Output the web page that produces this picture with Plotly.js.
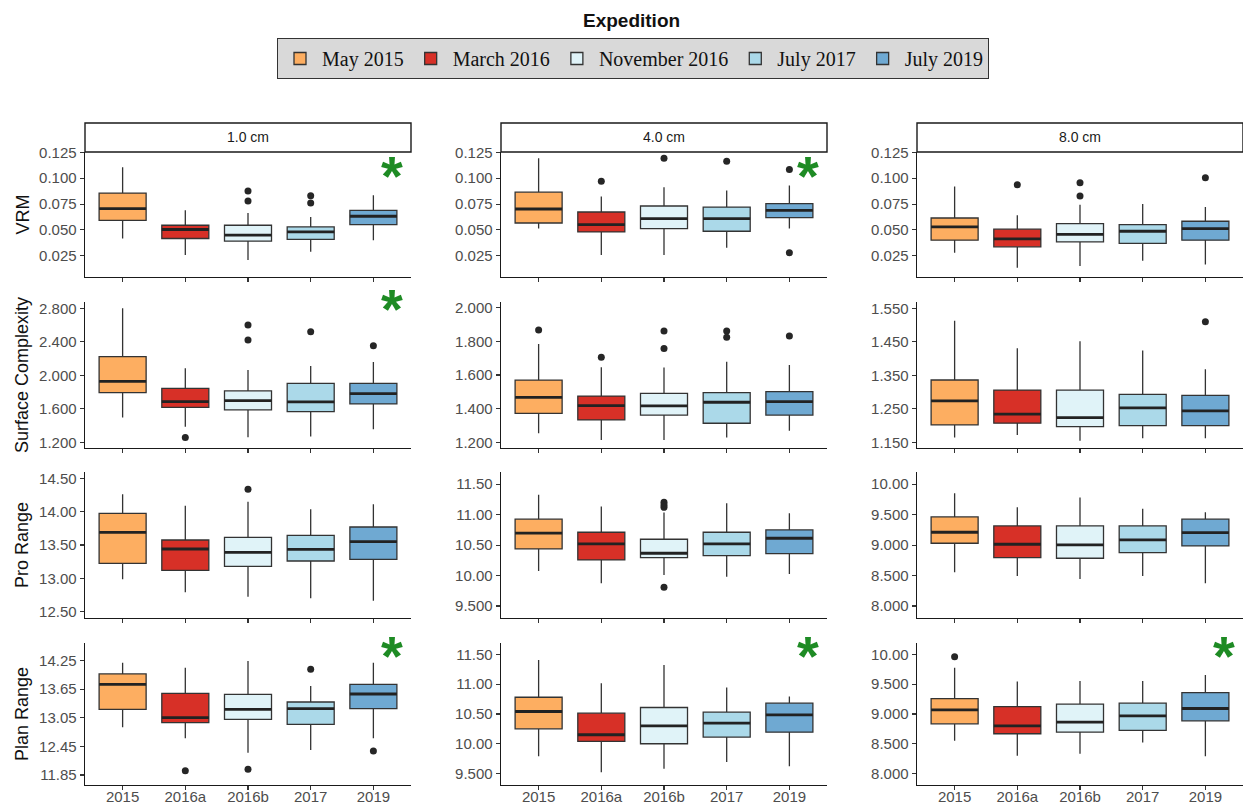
<!DOCTYPE html>
<html>
<head>
<meta charset="utf-8">
<script src="https://cdn.plot.ly/plotly-3.0.1.min.js"></script>
<style>html,body{margin:0;padding:0;background:#fff;}#chart{width:1243px;height:807px;}</style>
</head>
<body>
<div id="chart"></div>
<script>
// ---------------- DATA ----------------
const categories = ['2015', '2016a', '2016b', '2017', '2019'];
const expeditions = ['May 2015', 'March 2016', 'November 2016', 'July 2017', 'July 2019'];
const metrics = ['VRM', 'Surface Complexity', 'Pro Range', 'Plan Range'];
const resolutions = ['1.0 cm', '4.0 cm', '8.0 cm'];

const VRM_1cm = {lower:[0.0417,0.0257,0.0209,0.0288,0.0401], q1:[0.0593,0.0417,0.0391,0.0408,0.0552], median:[0.0706,0.0504,0.0449,0.0481,0.0632], q3:[0.0856,0.0545,0.0545,0.0529,0.0689], upper:[0.1106,0.0689,0.0663,0.0625,0.0834]};
const VRM_1cm_out = [[], [], [0.0875,0.0779], [0.0831,0.0760], []];
const VRM_4cm = {lower:[0.0513,0.0257,0.0257,0.0327,0.0513], q1:[0.0567,0.0481,0.0513,0.0487,0.0619], median:[0.0702,0.0552,0.0610,0.0610,0.0689], q3:[0.0865,0.0673,0.0731,0.0721,0.0754], upper:[0.1192,0.0824,0.0913,0.0882,0.0930]};
const VRM_4cm_out = [[], [0.0971], [0.1192], [0.1163], [0.1084,0.0279]];
const VRM_8cm = {lower:[0.0279,0.0135,0.0151,0.0202,0.0167], q1:[0.0401,0.0337,0.0385,0.0369,0.0401], median:[0.0529,0.0413,0.0456,0.0487,0.0513], q3:[0.0615,0.0507,0.0561,0.0552,0.0584], upper:[0.0920,0.0641,0.0744,0.0750,0.0721]};
const VRM_8cm_out = [[], [0.0937], [0.0956,0.0827], [], [0.1004]];

const SC_1cm = {lower:[1.495,1.387,1.260,1.268,1.355], q1:[1.793,1.618,1.586,1.566,1.658], median:[1.928,1.686,1.698,1.682,1.781], q3:[2.223,1.845,1.813,1.904,1.904], upper:[2.800,2.084,2.064,2.111,2.159]};
const SC_1cm_out = [[], [1.256], [2.601,2.422], [2.521], [2.354]];
const SC_4cm = {lower:[1.253,1.214,1.214,1.228,1.269], q1:[1.372,1.333,1.362,1.313,1.362], median:[1.467,1.418,1.416,1.438,1.442], q3:[1.570,1.475,1.491,1.495,1.501], upper:[1.784,1.646,1.644,1.679,1.659]};
const SC_4cm_out = [[1.867], [1.705], [1.861,1.758], [1.861,1.824], [1.832]];
const SC_8cm = {lower:[1.164,1.172,1.155,1.162,1.162], q1:[1.202,1.207,1.197,1.200,1.200], median:[1.274,1.234,1.224,1.253,1.244], q3:[1.336,1.306,1.306,1.293,1.290], upper:[1.513,1.431,1.452,1.424,1.368]};
const SC_8cm_out = [[], [], [], [], [1.510]];

const PRO_1cm = {lower:[12.985,12.790,12.725,12.700,12.665], q1:[13.225,13.120,13.180,13.260,13.285], median:[13.690,13.440,13.390,13.435,13.550], q3:[13.975,13.575,13.615,13.645,13.770], upper:[14.260,14.090,14.150,14.035,14.110]};
const PRO_1cm_out = [[], [], [14.335], [], []];
const PRO_4cm = {lower:[10.075,9.873,10.010,9.982,10.026], q1:[10.437,10.256,10.295,10.327,10.360], median:[10.695,10.519,10.366,10.519,10.612], q3:[10.925,10.711,10.596,10.711,10.749], upper:[11.325,11.133,11.034,11.188,11.023]};
const PRO_4cm_out = [[], [], [11.204,11.160,11.120,9.807], [], []];
const PRO_8cm = {lower:[8.553,8.493,8.444,8.493,8.373], q1:[9.030,8.795,8.784,8.877,8.986], median:[9.211,9.014,9.003,9.085,9.206], q3:[9.463,9.315,9.315,9.315,9.425], upper:[9.852,9.622,9.781,9.595,9.540]};
const PRO_8cm_out = [[], [], [], [], []];

const PLAN_1cm = {lower:[12.851,12.620,12.319,12.375,12.620], q1:[13.228,12.949,13.018,12.914,13.242], median:[13.753,13.053,13.228,13.242,13.550], q3:[13.970,13.564,13.543,13.382,13.753], upper:[14.208,14.103,14.243,13.718,14.208]};
const PLAN_1cm_out = [[], [11.941], [11.969], [14.068], [12.354]];
const PLAN_4cm = {lower:[9.790,9.522,9.584,9.695,9.623], q1:[10.252,10.040,10.001,10.113,10.196], median:[10.542,10.152,10.302,10.347,10.486], q3:[10.781,10.514,10.609,10.531,10.681], upper:[11.405,11.015,11.322,10.943,10.792]};
const PLAN_4cm_out = [[], [], [], [], []];
const PLAN_8cm = {lower:[8.552,8.301,8.334,8.524,8.290], q1:[8.836,8.669,8.696,8.724,8.886], median:[9.070,8.802,8.864,8.969,9.092], q3:[9.259,9.125,9.164,9.181,9.359], upper:[9.777,9.543,9.554,9.554,9.655]};
const PLAN_8cm_out = [[9.961], [], [], [], []];

// significance flags (rows = metrics, cols = resolutions)
const significant = [[1,1,0],[1,0,0],[0,0,0],[1,1,1]];

// y tick values and labels
const ticks_VRM = [0.025, 0.050, 0.075, 0.100, 0.125];
const labels_VRM = ['0.025', '0.050', '0.075', '0.100', '0.125'];
const ticks_SC1 = [1.2, 1.6, 2.0, 2.4, 2.8];
const labels_SC1 = ['1.200', '1.600', '2.000', '2.400', '2.800'];
const ticks_SC4 = [1.2, 1.4, 1.6, 1.8, 2.0];
const labels_SC4 = ['1.200', '1.400', '1.600', '1.800', '2.000'];
const ticks_SC8 = [1.15, 1.25, 1.35, 1.45, 1.55];
const labels_SC8 = ['1.150', '1.250', '1.350', '1.450', '1.550'];
const ticks_R1 = [12.5, 13.0, 13.5, 14.0, 14.5];
const labels_R1 = ['12.50', '13.00', '13.50', '14.00', '14.50'];
const ticks_R4 = [9.5, 10.0, 10.5, 11.0, 11.5];
const labels_R4 = ['9.500', '10.00', '10.50', '11.00', '11.50'];
const ticks_R8 = [8.0, 8.5, 9.0, 9.5, 10.0];
const labels_R8 = ['8.000', '8.500', '9.000', '9.500', '10.00'];
const ticks_PL1 = [11.85, 12.45, 13.05, 13.65, 14.25];
const labels_PL1 = ['11.85', '12.45', '13.05', '13.65', '14.25'];

// ---------------- ASSEMBLY / STYLE ----------------
const W = 1243, H = 807;
const fills = ['#FDAE61', '#D73027', '#E0F3F8', '#ABD9E9', '#6FA9D2'];
const colX = [[85, 411], [501, 827], [917, 1243]];
const rowY = [[152, 277], [302, 448], [472, 618], [643, 785]];

const panels = [
  [VRM_1cm, VRM_4cm, VRM_8cm],
  [SC_1cm, SC_4cm, SC_8cm],
  [PRO_1cm, PRO_4cm, PRO_8cm],
  [PLAN_1cm, PLAN_4cm, PLAN_8cm]
];
const panelOut = [
  [VRM_1cm_out, VRM_4cm_out, VRM_8cm_out],
  [SC_1cm_out, SC_4cm_out, SC_8cm_out],
  [PRO_1cm_out, PRO_4cm_out, PRO_8cm_out],
  [PLAN_1cm_out, PLAN_4cm_out, PLAN_8cm_out]
];
const panelTicks = [
  [[ticks_VRM, labels_VRM], [ticks_VRM, labels_VRM], [ticks_VRM, labels_VRM]],
  [[ticks_SC1, labels_SC1], [ticks_SC4, labels_SC4], [ticks_SC8, labels_SC8]],
  [[ticks_R1, labels_R1], [ticks_R4, labels_R4], [ticks_R8, labels_R8]],
  [[ticks_PL1, labels_PL1], [ticks_R4, labels_R4], [ticks_R8, labels_R8]]
];
const panelRange = [
  [[0.0045, 0.1253], [0.0045, 0.1253], [0.0045, 0.1253]],
  [[1.132, 2.875], [1.166, 2.034], [1.133, 1.569]],
  [[12.405, 14.595], [9.303, 11.70], [7.803, 10.20]],
  [[11.64, 14.62], [9.31, 11.69], [7.81, 10.19]]
];
// asterisk pixel-y offsets relative to panel top
const starDy = [16, -1, 0, 5];

const sansFont = 'Liberation Sans, Arial, sans-serif';
const traces = [];
const layout = {
  width: W, height: H,
  margin: {l: 0, r: 0, t: 0, b: 0},
  paper_bgcolor: '#fff', plot_bgcolor: '#fff',
  showlegend: true,
  legend: {
    orientation: 'h', x: 633 / W, xanchor: 'center', y: 1 - 38 / H, yanchor: 'top',
    bgcolor: '#d9d9d9', bordercolor: '#333', borderwidth: 1,
    font: {family: 'Liberation Serif, Times New Roman, serif', size: 20, color: '#111'},
    itemwidth: 34, traceorder: 'normal'
  },
  shapes: [], annotations: []
};

for (let r = 0; r < 4; r++) {
  for (let c = 0; c < 3; c++) {
    const k = r * 3 + c;
    const ax = k === 0 ? '' : String(k + 1);
    const xa = 'x' + ax, ya = 'y' + ax;
    const P = panels[r][c];
    for (let i = 0; i < categories.length; i++) {
      traces.push({
        type: 'box', x: [i],
        q1: [P.q1[i]], median: [P.median[i]], q3: [P.q3[i]],
        lowerfence: [P.lower[i]], upperfence: [P.upper[i]],
        xaxis: xa, yaxis: ya,
        name: expeditions[i], legendgroup: expeditions[i], showlegend: k === 0,
        fillcolor: fills[i], line: {color: '#333', width: 1.3},
        width: 0.75, whiskerwidth: 0, boxpoints: false, hoverinfo: 'skip'
      });
    }
    // thick median lines
    const mx = [], my = [];
    for (let i = 0; i < categories.length; i++) {
      mx.push(i - 0.375, i + 0.375, null);
      my.push(P.median[i], P.median[i], null);
    }
    traces.push({type: 'scatter', mode: 'lines', x: mx, y: my, xaxis: xa, yaxis: ya,
      line: {color: '#222', width: 2.8}, showlegend: false, hoverinfo: 'skip'});
    // outliers
    const ox = [], oy = [];
    panelOut[r][c].forEach((vals, i) => vals.forEach(v => { ox.push(i); oy.push(v); }));
    if (ox.length) {
      traces.push({type: 'scatter', mode: 'markers', x: ox, y: oy, xaxis: xa, yaxis: ya,
        marker: {color: '#262626', size: 7}, showlegend: false, hoverinfo: 'skip', cliponaxis: false});
    }

    const [x0, x1] = colX[c], [y0, y1] = rowY[r];
    layout['xaxis' + ax] = {
      domain: [x0 / W, x1 / W], anchor: ya, range: [-0.6, 4.6],
      tickvals: [0, 1, 2, 3, 4], ticktext: categories, showticklabels: r === 3,
      ticks: 'outside', ticklen: 4, tickwidth: 1.1, tickcolor: '#333',
      ticklabelstandoff: -6,
      showline: true, linecolor: '#1a1a1a', linewidth: 1.4,
      showgrid: false, zeroline: false, fixedrange: true,
      tickfont: {family: sansFont, size: 15, color: '#4d4d4d'}
    };
    layout['yaxis' + ax] = {
      domain: [1 - y1 / H, 1 - y0 / H], anchor: xa, range: panelRange[r][c],
      tickvals: panelTicks[r][c][0], ticktext: panelTicks[r][c][1],
      ticks: 'outside', ticklen: 4, tickwidth: 1.1, tickcolor: '#333',
      showline: true, linecolor: '#1a1a1a', linewidth: 1.4,
      showgrid: false, zeroline: false, fixedrange: true,
      tickfont: {family: sansFont, size: 15, color: '#4d4d4d'}
    };

    if (significant[r][c]) {
      const sx = x0 + 0.943 * (x1 - x0);
      const sy = y0 + starDy[r] + 7;
      layout.annotations.push({xref: 'paper', yref: 'paper', x: sx / W, y: 1 - sy / H,
        xanchor: 'center', yanchor: 'middle', text: '<b>*</b>', showarrow: false,
        font: {family: sansFont, size: 56, color: '#1E8B24'}});
    }
  }
}

// facet strips
for (let c = 0; c < 3; c++) {
  const [x0, x1] = colX[c];
  layout.shapes.push({type: 'rect', xref: 'paper', yref: 'paper',
    x0: x0 / W, x1: x1 / W, y0: 1 - 152 / H, y1: 1 - 123 / H,
    line: {color: '#1a1a1a', width: 1.4}, fillcolor: '#fff'});
  layout.annotations.push({xref: 'paper', yref: 'paper', x: (x0 + x1) / 2 / W, y: 1 - 137.5 / H,
    xanchor: 'center', yanchor: 'middle', text: resolutions[c], showarrow: false,
    font: {family: sansFont, size: 14, color: '#1a1a1a'}});
}

// y-axis titles
for (let r = 0; r < 4; r++) {
  const [y0, y1] = rowY[r];
  layout.annotations.push({xref: 'paper', yref: 'paper', x: 22 / W, y: 1 - (y0 + y1) / 2 / H,
    xanchor: 'center', yanchor: 'middle', textangle: -90, text: metrics[r], showarrow: false,
    font: {family: sansFont, size: 18, color: '#111'}});
}

// legend title
layout.annotations.push({xref: 'paper', yref: 'paper', x: 631 / W, y: 1 - 21 / H,
  xanchor: 'center', yanchor: 'middle', text: '<b>Expedition</b>', showarrow: false,
  font: {family: sansFont, size: 19, color: '#111'}});

Plotly.newPlot('chart', traces, layout, {staticPlot: true, displayModeBar: false});
</script>
</body>
</html>
